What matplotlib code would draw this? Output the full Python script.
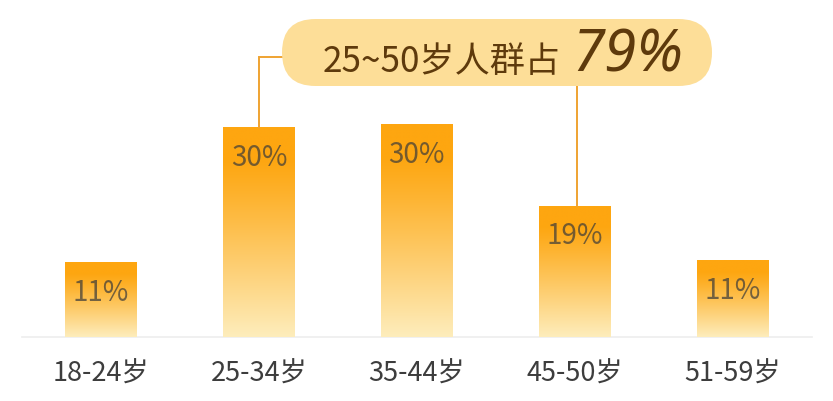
import numpy as np
import matplotlib
matplotlib.use("Agg")
import matplotlib.pyplot as plt
from matplotlib.patches import FancyBboxPatch

plt.rcParams['font.family'] = ['Noto Sans CJK SC', 'DejaVu Sans']

# ---- data ----
categories = ['18-24岁', '25-34岁', '35-44岁', '45-50岁', '51-59岁']
heights = [10.6, 29.9, 30.3, 18.7, 10.9]          # drawn bar heights (%)
labels = ['11%', '30%', '30%', '19%', '11%']
callout_text = '25~50岁人群占'
callout_value = '79%'
callout_from, callout_to = 1, 3                     # bars linked by the callout

W, H, DPI = 833, 402, 100
fig = plt.figure(figsize=(W / DPI, H / DPI), dpi=DPI)
ax = fig.add_axes([0, 0, 1, 1])
ax.set_axis_off()

base_px = 64.5
px_x = 157.9   # px per category unit
px_y = 7.0     # px per percent
ax.set_xlim(-101 / px_x, (W - 101) / px_x)
ax.set_ylim(-base_px / px_y, (H - base_px) / px_y)

orange = np.array([254, 166, 16]) / 255
pale = np.array([253, 237, 188]) / 255
t = np.linspace(0, 1, 256)
f = np.clip((t - 0.15) / 0.85, 0, 1) ** 1.1
grad = orange[None, :] * (1 - f[:, None]) + pale[None, :] * f[:, None]
img = grad[:, None, :]

bw = 72 / px_x
x = np.arange(len(categories))

# baseline
ax.plot([-79 / px_x, (812 - 101) / px_x], [0, 0], color='#EDEDED', lw=1.2, zorder=1)

for xi, h, lab, cat in zip(x, heights, labels, categories):
    ax.imshow(img, extent=[xi - bw / 2, xi + bw / 2, 0, h], aspect='auto',
              origin='upper', zorder=2, interpolation='bilinear')
    ax.annotate(lab, (xi, h), xytext=(0, -37.5 * 72 / DPI), textcoords='offset points',
                ha='center', va='baseline', fontsize=20, color='#3a3a3a', alpha=0.7,
                fontweight='light', zorder=3)
    ax.text(xi, -44.5 / px_y, cat, ha='center', va='baseline', fontsize=19.5,
            color='#3d3d3d', zorder=3)

# callout pill
def py(top_px):
    return (H - top_px - base_px) / px_y

x0, x1 = (282 - 101) / px_x, (712 - 101) / px_x
y0, y1 = py(87), py(20)
aspect = px_x / px_y
r = 33.5 / px_x
pill = FancyBboxPatch((x0, y0), x1 - x0, y1 - y0,
                      boxstyle=f"round,pad=0,rounding_size={r}",
                      mutation_aspect=aspect, facecolor='#FDDE98',
                      edgecolor='none', zorder=4)
ax.add_patch(pill)

line_c = '#EFA331'
ymid = py(57.5)
ax.plot([x0 + 0.02, callout_from, callout_from], [ymid, ymid, heights[callout_from]],
        color=line_c, lw=1.4, zorder=3, solid_joinstyle='miter')
ax.plot([callout_to + 0.014, callout_to + 0.014], [y0, heights[callout_to]],
        color=line_c, lw=1.4, zorder=3)

tb = py(72)
ax.text((323 - 101) / px_x, tb, callout_text, ha='left', va='baseline',
        fontsize=25.3, color='#5E3A0C', zorder=5)
ax.text((572 - 101) / px_x, tb, callout_value, ha='left', va='baseline',
        fontsize=42, color='#5E3A0C', fontweight='bold', fontstyle='italic',
        family=['Noto Sans', 'DejaVu Sans'], zorder=5)

fig.savefig('out.png', dpi=DPI, facecolor='white')
